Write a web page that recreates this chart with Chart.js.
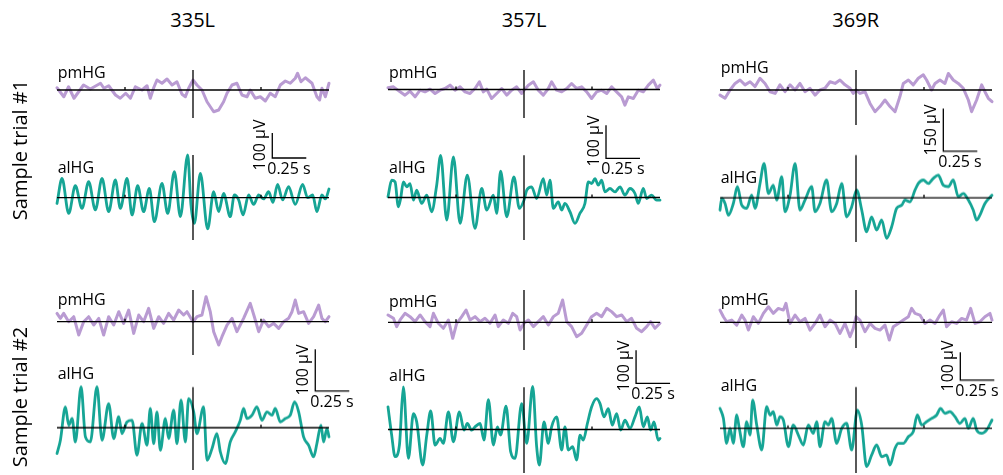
<!DOCTYPE html>
<html>
<head>
<meta charset="utf-8">
<script src="https://cdn.jsdelivr.net/npm/chart.js@4.4.1/dist/chart.umd.min.js"></script>
<style>
  body { margin: 0; width: 1003px; height: 475px; background: #fff; position: relative; overflow: hidden;
         font-family: "Open Sans", "Noto Sans", sans-serif; color: #000; }
  canvas { position: absolute; }
  .txt { position: absolute; white-space: nowrap; line-height: 1; }
</style>
</head>
<body>
<script>
// time in ms relative to onset, amplitude in µV
const pm335_1 = [[-1000,9],[-950,-27],[-915,13],[-875,-33],[-805,20],[-755,4],[-680,27],[-655,7],[-620,17],[-570,-20],[-535,-33],[-495,-13],[-460,-33],[-424,13],[-375,0],[-338,17],[-314,-33],[-289,9],[-265,40],[-228,27],[-191,44],[-154,20],[-118,33],[-81,-17],[-56,-27],[-32,7],[0,40],[29,20],[66,0],[103,-47],[152,-87],[189,-80],[225,-47],[250,-13],[287,20],[323,27],[360,-20],[397,-27],[421,0],[458,-33],[495,-27],[532,-44],[568,-13],[605,-27],[642,20],[679,36],[715,27],[752,47],[769,67],[794,33],[826,49],[875,27],[911,-27],[931,-40],[948,7],[973,-27],[1000,27]];
const al335_1 = [[-1000,-23],[-963,77],[-914,-63],[-865,48],[-816,-43],[-767,64],[-718,-49],[-669,77],[-620,-56],[-571,71],[-534,-43],[-485,77],[-448,-69],[-407,48],[-363,-56],[-321,37],[-284,-96],[-228,57],[-186,-63],[-137,104],[-93,-76],[-39,171],[-15,-29],[10,-103],[54,97],[108,-125],[152,24],[189,-56],[225,17],[274,-76],[304,11],[336,-9],[368,-69],[409,11],[446,-27],[483,11],[519,-5],[556,24],[588,-19],[622,53],[659,-9],[703,44],[752,-27],[806,53],[843,0],[880,11],[911,-56],[948,11],[973,-5],[1000,35]];
const pm357_1 = [[-1000,5],[-960,8],[-911,-7],[-875,-17],[-838,-5],[-801,-22],[-764,-2],[-728,-7],[-691,1],[-654,-12],[-617,-2],[-581,3],[-544,13],[-507,-2],[-470,8],[-434,-7],[-397,-12],[-360,3],[-328,23],[-299,-7],[-274,1],[-238,-27],[-201,-12],[-164,3],[-127,-17],[-91,-2],[-54,8],[-17,-12],[0,-2],[32,13],[69,23],[105,-2],[142,-17],[179,3],[203,23],[240,-2],[277,-7],[314,3],[350,18],[387,3],[424,8],[461,-7],[497,-27],[534,-7],[571,-2],[608,-12],[644,8],[681,-7],[718,-22],[742,-47],[767,-22],[804,-27],[840,-2],[877,-7],[914,13],[951,28],[980,3],[1000,13]];
const al357_1 = [[-1000,2],[-973,52],[-948,47],[-924,-28],[-907,-3],[-887,47],[-862,32],[-838,42],[-813,-8],[-789,22],[-752,-18],[-715,7],[-679,-43],[-642,37],[-613,127],[-568,-68],[-519,122],[-470,-78],[-417,67],[-360,-93],[-311,27],[-274,-38],[-225,7],[-201,-48],[-172,79],[-127,-58],[-74,62],[-34,-33],[0,-8],[20,22],[56,32],[93,-3],[142,57],[167,7],[191,52],[216,-33],[252,-13],[277,-38],[301,-18],[338,-43],[375,-78],[411,-48],[448,-18],[473,47],[497,42],[522,57],[546,37],[571,52],[595,17],[632,27],[669,17],[706,32],[742,7],[779,27],[816,12],[840,-18],[877,27],[902,-3],[938,7],[975,-8],[1000,-8]];
const pm369_1 = [[-1000,-18],[-963,-29],[-926,0],[-889,23],[-853,35],[-816,18],[-779,29],[-742,12],[-706,41],[-669,23],[-632,-6],[-595,-12],[-559,18],[-522,-6],[-485,18],[-448,0],[-412,23],[-375,-6],[-338,6],[-301,-18],[-265,0],[-228,6],[-191,29],[-154,23],[-118,35],[-81,18],[-44,6],[-20,-12],[0,0],[29,-12],[66,-6],[103,-47],[140,-76],[176,-58],[213,-35],[250,-58],[287,-76],[323,-23],[348,23],[385,35],[421,18],[458,41],[495,53],[519,35],[556,0],[581,23],[617,35],[654,23],[679,58],[715,35],[752,23],[789,6],[826,-35],[850,-76],[887,-35],[924,18],[948,-6],[973,-29],[1000,-41]];
const al369_1 = [[-1000,-43],[-987,-2],[-963,-20],[-938,-61],[-902,-20],[-872,39],[-840,-26],[-804,-37],[-767,9],[-742,-37],[-706,50],[-676,120],[-644,15],[-608,44],[-583,-8],[-546,74],[-522,-49],[-485,9],[-448,120],[-412,-43],[-375,-8],[-326,39],[-301,-49],[-265,-20],[-216,62],[-179,-49],[-142,-20],[-105,50],[-69,-67],[-32,-32],[5,27],[42,-43],[78,-119],[115,-67],[152,-113],[189,-78],[225,-142],[262,-102],[299,-37],[336,-26],[360,-8],[397,-14],[434,27],[458,50],[495,62],[532,50],[568,68],[605,79],[642,44],[679,39],[715,62],[752,4],[789,15],[826,-8],[862,-43],[887,-78],[911,-61],[948,-20],[1000,9]];
const pm335_2 = [[-1000,20],[-975,8],[-951,20],[-914,0],[-877,12],[-840,-32],[-804,0],[-767,12],[-730,-8],[-693,8],[-657,-32],[-620,12],[-583,-8],[-546,24],[-510,-4],[-473,28],[-436,-28],[-399,16],[-363,0],[-326,32],[-289,-16],[-252,12],[-216,-4],[-179,20],[-142,4],[-105,28],[-69,16],[-44,24],[0,0],[29,12],[66,16],[96,60],[127,24],[152,-24],[189,-56],[213,-36],[250,-8],[287,8],[323,-24],[372,8],[421,44],[451,12],[483,-24],[519,4],[556,-12],[593,-4],[630,-16],[666,0],[703,8],[728,24],[752,52],[777,20],[813,24],[850,-4],[887,12],[924,40],[948,8],[973,0],[1000,12]];
const al335_2 = [[-1000,-62],[-975,-30],[-938,50],[-914,6],[-889,22],[-865,-34],[-823,98],[-791,-22],[-755,-34],[-706,98],[-669,-30],[-620,58],[-583,-26],[-546,26],[-522,-14],[-485,14],[-448,18],[-412,-66],[-375,10],[-338,-42],[-314,46],[-289,-38],[-265,38],[-240,-54],[-203,22],[-179,-26],[-142,42],[-118,-38],[-88,66],[-56,-34],[-32,70],[5,38],[29,-14],[78,50],[103,-78],[140,-50],[176,-14],[201,-58],[238,-86],[274,-34],[311,-10],[348,18],[372,46],[397,22],[434,30],[470,50],[507,18],[544,38],[581,30],[605,46],[642,14],[679,22],[715,30],[747,62],[777,38],[813,-22],[850,-42],[887,-70],[911,-38],[941,6],[960,-34],[985,-2],[1000,-22]];
const pm357_2 = [[-1000,22],[-960,12],[-936,-13],[-911,7],[-875,27],[-838,17],[-801,2],[-764,22],[-728,2],[-691,-13],[-666,27],[-630,-3],[-593,-18],[-556,7],[-524,-48],[-495,-3],[-458,17],[-426,37],[-397,7],[-360,17],[-323,2],[-287,12],[-250,-3],[-213,22],[-189,-13],[-152,7],[-115,-3],[-83,27],[-54,17],[-29,-23],[0,-3],[32,7],[69,-13],[105,2],[142,17],[179,-8],[216,17],[252,27],[284,67],[314,2],[350,-13],[387,-43],[424,-33],[461,-8],[497,17],[534,27],[571,17],[608,42],[644,32],[681,17],[718,22],[755,2],[791,12],[828,-18],[865,-28],[902,-13],[931,2],[963,-18],[1000,-3]];
const al357_2 = [[-1000,68],[-973,-17],[-948,-82],[-916,-47],[-887,128],[-850,-87],[-813,48],[-789,23],[-745,-107],[-715,-17],[-686,56],[-654,-47],[-617,-27],[-593,-42],[-556,53],[-519,-37],[-475,53],[-441,-2],[-417,18],[-385,-2],[-360,8],[-323,18],[-294,-32],[-262,90],[-225,-47],[-196,8],[-172,-17],[-132,70],[-98,-67],[-66,-87],[-17,78],[20,-42],[64,130],[93,-52],[113,-107],[147,23],[179,-42],[203,8],[240,38],[277,-62],[301,8],[326,-62],[358,-52],[387,-92],[412,-17],[436,-32],[466,18],[497,68],[534,93],[559,78],[588,38],[620,63],[649,13],[681,48],[711,-2],[742,28],[779,3],[816,38],[848,68],[877,8],[907,38],[931,-2],[956,23],[987,-32],[1000,-27]];
const pm369_2 = [[-1000,44],[-975,20],[-951,2],[-914,8],[-877,-10],[-840,26],[-816,8],[-791,-28],[-755,20],[-718,-4],[-681,32],[-644,56],[-608,32],[-571,50],[-534,44],[-515,68],[-485,-4],[-448,26],[-412,2],[-375,14],[-338,-28],[-301,-4],[-265,26],[-228,-16],[-191,8],[-154,-4],[-118,-40],[-81,-4],[-44,-52],[-20,-22],[0,20],[29,8],[66,-34],[103,-4],[140,-22],[176,-28],[213,-10],[245,-64],[274,-16],[311,-4],[348,8],[385,20],[409,50],[434,32],[470,26],[507,-4],[544,8],[581,-4],[617,26],[642,44],[666,-16],[703,2],[740,-4],[777,14],[813,8],[843,50],[875,-4],[911,2],[948,20],[985,32],[1000,8]];
const al369_2 = [[-1000,72],[-975,36],[-951,-54],[-926,0],[-902,-54],[-877,48],[-858,0],[-828,-66],[-804,24],[-779,-24],[-760,102],[-730,12],[-693,-78],[-657,78],[-632,48],[-608,60],[-583,12],[-559,42],[-534,30],[-497,-66],[-461,12],[-424,-24],[-387,-60],[-351,12],[-314,-18],[-289,24],[-265,-66],[-228,24],[-203,12],[-179,36],[-142,-54],[-105,0],[-69,18],[-32,-78],[10,66],[42,12],[78,-138],[115,-96],[152,-60],[189,-102],[225,-96],[250,-132],[287,-72],[311,-54],[348,-54],[385,-30],[421,-12],[451,48],[483,12],[519,24],[556,36],[593,48],[622,72],[654,54],[691,60],[728,42],[764,18],[801,36],[826,0],[862,36],[887,-6],[924,-18],[960,-6],[1000,30]];

const subjects = ['335L', '357L', '369R'];
const trials = ['Sample trial #1', 'Sample trial #2'];
const PM_COLOR = '#b99bd2';
const AL_COLOR = '#16a595';

// layout of each panel on the page (px), scale bar in chart units
const panels = [
  { zeroX: 192.7, k: 4.0, pm: { data: pm335_1, top: 70, bottom: 118, base: 90 },   al: { data: al335_1, top: 155, bottom: 240, base: 197.7 },
    bar: { t: 583, y: 159, uv: 100 }, pmLab: 72, alLab: 166.5 },
  { zeroX: 524,   k: 3.0, pm: { data: pm357_1, top: 70, bottom: 118, base: 89.5 }, al: { data: al357_1, top: 155, bottom: 240, base: 197.3 },
    bar: { t: 603, y: 118, uv: 100 }, pmLab: 72, alLab: 166.5 },
  { zeroX: 855.7, k: 3.5, pm: { data: pm369_1, top: 70, bottom: 125, base: 90 },   al: { data: al369_1, top: 155, bottom: 242, base: 197.7 },
    bar: { t: 642, y: 163, uv: 150 }, pmLab: 66.5, alLab: 176.5 },
  { zeroX: 192.7, k: 2.4, pm: { data: pm335_2, top: 290, bottom: 355, base: 321.7 }, al: { data: al335_2, top: 387, bottom: 470, base: 427.7 },
    bar: { t: 899, y: 88, uv: 100 }, pmLab: 298.5, alLab: 373 },
  { zeroX: 524,   k: 3.0, pm: { data: pm357_2, top: 290, bottom: 350, base: 322.3 }, al: { data: al357_2, top: 387, bottom: 473, base: 429.3 },
    bar: { t: 824, y: 139, uv: 100 }, pmLab: 300.5, alLab: 375 },
  { zeroX: 855.7, k: 3.6, pm: { data: pm369_2, top: 290, bottom: 348, base: 322.3 }, al: { data: al369_2, top: 387, bottom: 473, base: 428.3 },
    bar: { t: 767, y: 174, uv: 100 }, pmLab: 298.5, alLab: 385 },
];

const PX_PER_S = 136;
const HALF = PX_PER_S; // 1 s each side of onset

function addText(str, x, y, size, css) {
  const d = document.createElement('div');
  d.className = 'txt';
  d.textContent = str;
  d.style.fontSize = size + 'px';
  d.style.left = x + 'px';
  d.style.top = y + 'px';
  d.style.transform = css || 'translate(0,-50%)';
  document.body.appendChild(d);
  return d;
}

// baseline, onset line, ±0.5 s ticks, optional scale bar
const marks = {
  id: 'marks',
  afterDatasetsDraw(chart, args, opts) {
    const { ctx, chartArea: a, scales: { x, y } } = chart;
    ctx.save();
    ctx.strokeStyle = '#000';
    ctx.lineWidth = 1.3;
    ctx.beginPath();
    const y0 = y.getPixelForValue(0);
    ctx.moveTo(x.getPixelForValue(-1000), y0);
    ctx.lineTo(x.getPixelForValue(1000), y0);
    const x0 = x.getPixelForValue(0);
    ctx.moveTo(x0, a.top);
    ctx.lineTo(x0, a.bottom);
    for (const t of [-500, 500]) {
      const xt = x.getPixelForValue(t);
      ctx.moveTo(xt, y0 - 3);
      ctx.lineTo(xt, y0);
    }
    ctx.stroke();
    if (opts.bar) {
      const b = opts.bar;
      const bx = x.getPixelForValue(b.t), by = y.getPixelForValue(b.y);
      ctx.beginPath();
      ctx.moveTo(bx, y.getPixelForValue(b.y + b.uv));
      ctx.lineTo(bx, by);
      ctx.lineTo(x.getPixelForValue(b.t + 250), by);
      ctx.stroke();
    }
    ctx.restore();
  }
};

function makeTrace(p, tr, color, width, smooth, bar) {
  const padL = 3, padB = 4;
  const padR = bar ? 70 : 4;
  const padT = bar ? Math.max(4, tr.top - (tr.base - (bar.y + bar.uv) / p.k) + 4) : 4;
  const cv = document.createElement('canvas');
  const w = 2 * HALF + padL + padR;
  const h = tr.bottom - tr.top + padT + padB;
  cv.width = w; cv.height = h;
  cv.style.left = (p.zeroX - HALF - padL) + 'px';
  cv.style.top = (tr.top - padT) + 'px';
  cv.style.width = w + 'px';
  cv.style.height = h + 'px';
  document.body.appendChild(cv);
  return new Chart(cv, {
    type: 'line',
    data: {
      datasets: [{
        data: tr.data.map(([t, v]) => ({ x: t, y: v })),
        borderColor: color,
        borderWidth: width,
        pointRadius: 0,
        cubicInterpolationMode: smooth ? 'monotone' : 'default',
        tension: 0,
        borderJoinStyle: 'round',
        borderCapStyle: 'round',
        clip: false
      }]
    },
    options: {
      responsive: false,
      animation: false,
      layout: { padding: { top: padT, bottom: padB, left: padL, right: padR } },
      plugins: { legend: { display: false }, tooltip: { enabled: false }, marks: { bar: bar || null } },
      scales: {
        x: { type: 'linear', min: -1000, max: 1000, display: false },
        y: { min: -(tr.bottom - tr.base) * p.k, max: (tr.base - tr.top) * p.k, display: false }
      }
    },
    plugins: [marks]
  });
}

panels.forEach((p, i) => {
  makeTrace(p, p.pm, PM_COLOR, 3, false, null);
  const al = makeTrace(p, p.al, AL_COLOR, 2.8, true, p.bar);
  const left = p.zeroX - HALF + 1;
  addText('pmHG', left, p.pmLab, 16);
  addText('alHG', left, p.alLab, 16);
  // scale bar labels, placed from the bar's pixel position
  const cvX = parseFloat(al.canvas.style.left), cvY = parseFloat(al.canvas.style.top);
  const bx = cvX + al.scales.x.getPixelForValue(p.bar.t);
  const by = cvY + al.scales.y.getPixelForValue(p.bar.y);
  const byTop = cvY + al.scales.y.getPixelForValue(p.bar.y + p.bar.uv);
  const bx2 = cvX + al.scales.x.getPixelForValue(p.bar.t + 250);
  addText(p.bar.uv + ' µV', bx - 13, (by + byTop) / 2, 16, 'translate(-50%,-50%) rotate(-90deg)');
  addText('0.25 s', (bx + bx2) / 2, by + 10, 16, 'translate(-50%,-50%)');
});

subjects.forEach((s, i) => addText(s, panels[i].zeroX, 20, 20, 'translate(-50%,-50%)'));
addText(trials[0], 20, 150, 20, 'translate(-50%,-50%) rotate(-90deg)');
addText(trials[1], 20, 397, 20, 'translate(-50%,-50%) rotate(-90deg)');
</script>
</body>
</html>
